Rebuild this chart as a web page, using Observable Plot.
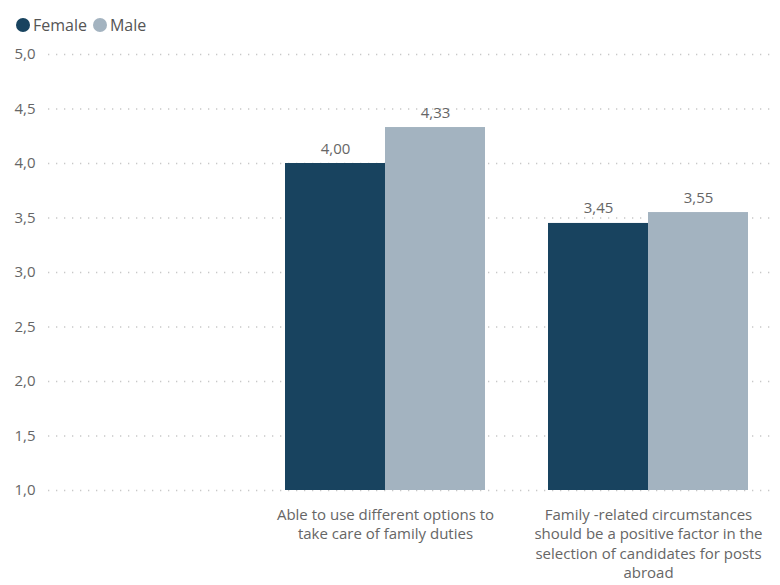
<!DOCTYPE html>
<html>
<head>
<meta charset="utf-8">
<script src="https://cdn.jsdelivr.net/npm/d3@7"></script>
<script src="https://cdn.jsdelivr.net/npm/@observablehq/plot@0.6"></script>
<style>
  body { margin: 0; background: #fff; font-family: "Open Sans", "Noto Sans", sans-serif; }
  #legend { height: 30px; padding-top: 10px; display: flex; align-items: center; padding-left: 16px; font-size: 16px; color: #555; }
  .item { display: flex; align-items: center; margin-right: 6px; }
  .dot { width: 14px; height: 14px; border-radius: 50%; margin-right: 3px; }
</style>
</head>
<body>
<div id="legend"></div>
<div id="chart"></div>
<script>
const categories = ["Able", "Family"];
const categoryLabels = [
  "Able to use different options to\ntake care of family duties",
  "Family -related circumstances\nshould be a positive factor in the\nselection of candidates for posts\nabroad"
];
const series = ["Female", "Male"];
const female = [4.00, 3.45];
const male = [4.33, 3.55];
const yTicks = [1.0, 1.5, 2.0, 2.5, 3.0, 3.5, 4.0, 4.5, 5.0];
const colors = ["#18435f", "#a3b3c0"];

const fmt1 = v => d3.format(".1f")(v).replace(".", ",");
const fmt2 = v => d3.format(".2f")(v).replace(".", ",");

const rowsF = categories.map((c, i) => ({cat: c, value: female[i]}));
const rowsM = categories.map((c, i) => ({cat: c, value: male[i]}));
const labelRows = categories.map((c, i) => ({cat: c, label: categoryLabels[i]}));

const legend = document.getElementById("legend");
series.forEach((s, i) => {
  const it = document.createElement("div");
  it.className = "item";
  it.innerHTML = `<span class="dot" style="background:${colors[i]}"></span><span>${s}</span>`;
  legend.appendChild(it);
});

const half = 100;
const chart = Plot.plot({
  width: 780,
  height: 545,
  marginLeft: 48,
  marginRight: 5,
  marginTop: 14,
  marginBottom: 95,
  style: { fontFamily: "Open Sans, Noto Sans, sans-serif", fontSize: "15px", color: "#666", background: "#fff" },
  x: { domain: categories, range: [253, 779], paddingInner: 0.24, paddingOuter: 0.12, axis: null },
  y: { domain: [1, 5], ticks: yTicks, tickFormat: fmt1, tickSize: 0, tickPadding: 13, label: null },
  marks: [
    Plot.ruleY(yTicks, { stroke: "#c8c8c8", strokeWidth: 1.3, strokeDasharray: "1.3,6.7" }),
    Plot.barY(rowsF, { x: "cat", y1: 1, y2: "value", fill: colors[0], insetRight: half }),
    Plot.barY(rowsM, { x: "cat", y1: 1, y2: "value", fill: colors[1], insetLeft: half }),
    Plot.text(rowsF, { x: "cat", y: "value", text: d => fmt2(d.value), dx: -half / 2, dy: -10, lineAnchor: "bottom", fill: "#666", fontSize: 15 }),
    Plot.text(rowsM, { x: "cat", y: "value", text: d => fmt2(d.value), dx: half / 2, dy: -10, lineAnchor: "bottom", fill: "#666", fontSize: 15 }),
    Plot.text(labelRows, { x: "cat", y: 1, text: "label", dy: 16, lineAnchor: "top", lineHeight: 1.28, fill: "#666", fontSize: 15 })
  ]
});
document.getElementById("chart").appendChild(chart);
</script>
</body>
</html>
